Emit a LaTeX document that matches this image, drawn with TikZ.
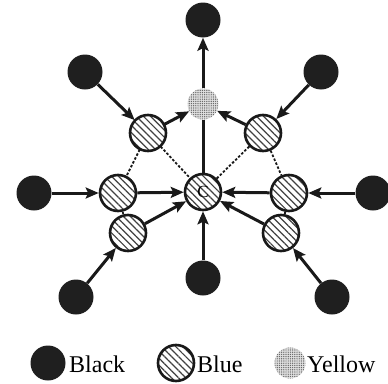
\documentclass[tikz,border=0pt]{standalone}
\usepackage{fontspec}
\setmainfont{Liberation Serif}
\usetikzlibrary{arrows.meta,patterns.meta}
\begin{document}
\begin{tikzpicture}[x=1pt,y=-1pt,
  blk/.style={circle,fill=black!88,draw=none,minimum size=35pt,inner sep=0pt},
  blu/.style={circle,draw=black!90,line width=2.6pt,minimum size=36pt,inner sep=0pt,
    pattern={Lines[angle=-45,distance=5pt,line width=1.2pt]},pattern color=black!75},
  yel/.style={circle,fill=black!12,draw=none,minimum size=31pt,inner sep=0pt,
    postaction={pattern={Dots[radius=0.7pt,distance=2.2pt]},pattern color=black!60}},
  arr/.style={line width=3pt,-{Stealth[length=13pt,width=11pt,inset=2.5pt]},black!90},
  dsh/.style={line width=1.8pt,dash pattern=on 2.5pt off 1.8pt,black!90},
  lbl/.style={font=\fontsize{24}{26}\selectfont,anchor=west,inner sep=0pt}
]
\useasboundingbox (0,0) rectangle (388,383);
% black nodes
\node[blk] (bT) at (203,20) {};
\node[blk] (bUL) at (85,72) {};
\node[blk] (bUR) at (321,72) {};
\node[blk] (bL) at (34,193) {};
\node[blk] (bR) at (373,193) {};
\node[blk] (bB) at (203,278) {};
\node[blk] (bLL) at (76,297) {};
\node[blk] (bLR) at (332,297) {};
% yellow
\node[yel] (y) at (203,104) {};
% blue nodes
\node[blu] (uUL) at (148,133) {};
\node[blu] (uUR) at (263,133) {};
\node[blu] (uL) at (118,193) {};
\node[blu] (uR) at (289,193) {};
\node[blu] (uLL) at (128,233) {};
\node[blu] (uLR) at (281,233) {};
\node[blu,font=\fontsize{17}{18}\selectfont] (c) at (203,192) {C};
% dashed links
\draw[dsh] (uUL) -- (c);
\draw[dsh] (uUR) -- (c);
\draw[dsh] (uUL) -- (uL);
\draw[dsh] (uUR) -- (uR);
\draw[dsh] (uL) -- (uLL);
\draw[dsh] (uR) -- (uLR);
% solid
\draw[line width=3pt,black!90] (c) -- (y);
% arrows
\draw[arr] (y) -- (bT);
\draw[arr] (bUL) -- (uUL);
\draw[arr] (bUR) -- (uUR);
\draw[arr] (uUL) -- (y);
\draw[arr] (uUR) -- (y);
\draw[arr] (bL) -- (uL);
\draw[arr] (bR) -- (uR);
\draw[arr] (uL) -- (c);
\draw[arr] (uR) -- (c);
\draw[arr] (uLL) -- (c);
\draw[arr] (uLR) -- (c);
\draw[arr] (bB) -- (c);
\draw[arr] (bLL) -- (uLL);
\draw[arr] (bLR) -- (uLR);
% legend
\node[blk] (lb) at (48,363) {};
\node[lbl] (lbt) at (69,364) {Black};
\node[blu] (lu) at (176,363) {};
\node[lbl] (lut) at (197,364) {Blue};
\node[yel] (ly) at (290,363) {};
\node[lbl] (lyt) at (307,364) {Yellow};
\end{tikzpicture}
\end{document}
